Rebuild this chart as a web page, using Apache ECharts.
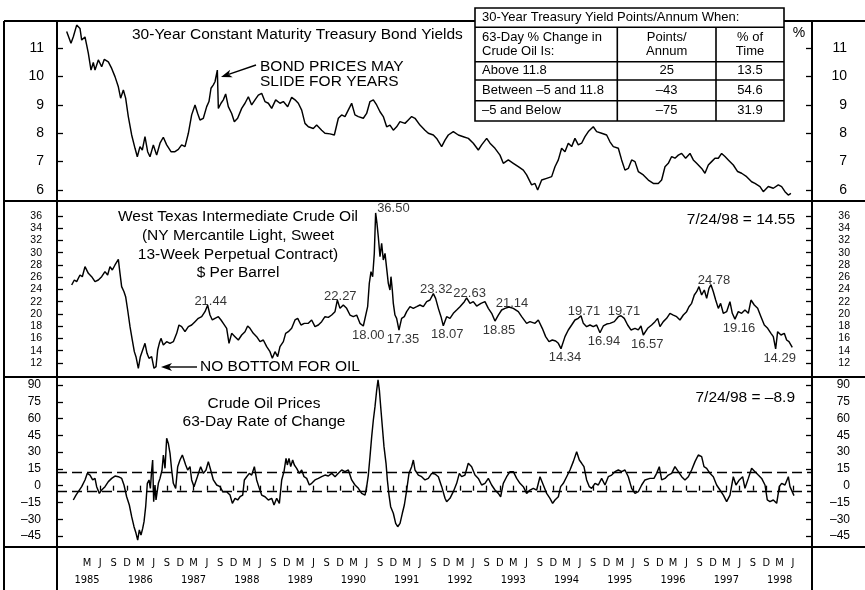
<!DOCTYPE html>
<html>
<head>
<meta charset="utf-8">
<title>Bond yields and crude oil</title>
<script src="https://cdn.jsdelivr.net/npm/echarts@6/dist/echarts.min.js"></script>
<style>
  html, body { margin: 0; padding: 0; background: #fff; }
  #main { width: 865px; height: 590px; }
</style>
</head>
<body>
<div id="main"></div>
<script>
// ---- data (x = decimal year) ----
var yieldDates = [1984.785,1984.866,1984.910,1984.973,1985.035,1985.067,1985.129,1985.160,1985.192,1985.242,1985.285,1985.317,1985.379,1985.442,1985.492,1985.567,1985.630,1985.692,1985.755,1985.798,1985.849,1985.892,1985.942,1986.005,1986.068,1986.111,1986.161,1986.205,1986.255,1986.305,1986.349,1986.412,1986.474,1986.537,1986.599,1986.662,1986.743,1986.818,1986.881,1986.943,1987.006,1987.069,1987.131,1987.194,1987.244,1987.287,1987.350,1987.413,1987.456,1987.494,1987.538,1987.569,1987.613,1987.632,1987.682,1987.725,1987.769,1987.819,1987.882,1987.932,1987.994,1988.070,1988.132,1988.195,1988.257,1988.320,1988.382,1988.445,1988.507,1988.570,1988.633,1988.708,1988.789,1988.852,1988.933,1989.008,1989.071,1989.133,1989.196,1989.258,1989.321,1989.414,1989.477,1989.571,1989.633,1989.727,1989.809,1989.884,1989.946,1990.009,1990.103,1990.134,1990.196,1990.259,1990.353,1990.415,1990.478,1990.541,1990.603,1990.666,1990.728,1990.791,1990.853,1990.916,1990.978,1991.041,1991.135,1991.197,1991.260,1991.323,1991.416,1991.510,1991.573,1991.667,1991.729,1991.823,1991.886,1991.948,1992.042,1992.136,1992.230,1992.324,1992.417,1992.511,1992.574,1992.668,1992.730,1992.824,1992.918,1992.980,1993.074,1993.168,1993.262,1993.356,1993.418,1993.512,1993.575,1993.625,1993.700,1993.794,1993.888,1993.950,1994.013,1994.075,1994.138,1994.200,1994.263,1994.325,1994.388,1994.450,1994.513,1994.576,1994.669,1994.732,1994.826,1994.920,1994.982,1995.045,1995.139,1995.201,1995.264,1995.326,1995.389,1995.452,1995.514,1995.608,1995.702,1995.796,1995.889,1995.952,1996.015,1996.077,1996.140,1996.202,1996.265,1996.327,1996.402,1996.484,1996.546,1996.609,1996.703,1996.765,1996.828,1996.890,1996.953,1997.016,1997.078,1997.141,1997.203,1997.297,1997.378,1997.453,1997.547,1997.641,1997.704,1997.798,1997.860,1997.954,1998.048,1998.142,1998.204,1998.267,1998.329,1998.379];
var yieldValues = [11.59,11.18,11.41,11.82,11.70,11.29,11.40,11.12,10.82,10.23,10.50,10.23,10.59,10.35,10.61,10.52,10.29,10.00,9.64,9.24,9.53,9.24,8.59,7.94,7.47,7.17,7.53,7.41,7.88,7.35,7.17,7.59,7.23,7.65,7.86,7.59,7.35,7.35,7.43,7.59,7.53,8.00,8.65,9.00,8.70,8.47,8.53,8.94,9.12,9.59,9.71,9.82,10.23,8.88,9.06,9.18,9.39,8.94,8.70,8.41,8.53,8.88,9.06,9.29,9.00,9.18,9.35,9.41,9.12,9.06,8.88,9.18,9.06,9.12,8.94,9.27,9.18,9.06,8.82,8.35,8.23,8.17,8.29,8.11,8.00,7.98,7.94,8.53,8.65,8.59,8.94,9.06,8.65,8.59,8.53,8.70,9.12,9.18,9.00,8.76,8.59,8.23,8.29,8.11,8.23,8.41,8.35,8.47,8.59,8.53,8.29,8.11,8.00,7.94,7.82,7.53,7.76,7.94,8.06,7.94,7.88,7.82,7.65,7.41,7.59,7.82,7.65,7.47,7.23,6.94,7.06,6.94,6.82,6.70,6.53,6.18,6.23,6.00,6.35,6.41,6.47,6.82,7.06,7.47,7.35,7.65,7.53,7.82,7.59,7.65,7.88,8.06,8.23,8.06,8.00,7.94,7.70,7.53,7.47,7.06,6.70,6.76,7.06,7.00,6.65,6.53,6.35,6.23,6.23,6.35,6.82,6.94,7.18,7.12,7.23,7.29,7.12,7.29,7.06,6.94,6.76,6.59,6.88,7.00,7.12,7.12,7.29,7.18,7.06,6.88,6.65,6.59,6.47,6.29,6.23,6.12,5.94,6.12,6.06,6.18,6.12,5.94,5.82,5.88];

var oilDates = [1984.879,1984.929,1984.973,1985.035,1985.079,1985.129,1985.192,1985.254,1985.317,1985.379,1985.442,1985.504,1985.554,1985.598,1985.642,1985.692,1985.755,1985.786,1985.817,1985.861,1985.892,1985.930,1985.974,1986.017,1986.055,1986.086,1986.130,1986.168,1986.205,1986.255,1986.293,1986.330,1986.380,1986.424,1986.462,1986.493,1986.524,1986.555,1986.599,1986.662,1986.724,1986.787,1986.850,1986.893,1986.943,1987.006,1987.069,1987.131,1987.194,1987.256,1987.319,1987.381,1987.431,1987.475,1987.519,1987.569,1987.632,1987.682,1987.725,1987.788,1987.832,1987.882,1987.944,1988.007,1988.070,1988.132,1988.182,1988.226,1988.288,1988.351,1988.414,1988.476,1988.539,1988.601,1988.645,1988.695,1988.745,1988.789,1988.852,1988.895,1988.945,1989.008,1989.071,1989.121,1989.183,1989.246,1989.321,1989.383,1989.446,1989.508,1989.571,1989.633,1989.696,1989.759,1989.821,1989.865,1989.915,1989.977,1990.040,1990.103,1990.165,1990.228,1990.290,1990.353,1990.372,1990.434,1990.465,1990.497,1990.528,1990.559,1990.584,1990.609,1990.634,1990.666,1990.697,1990.728,1990.760,1990.791,1990.822,1990.853,1990.872,1990.897,1990.916,1990.947,1990.978,1991.022,1991.072,1991.122,1991.166,1991.229,1991.291,1991.354,1991.416,1991.479,1991.542,1991.604,1991.667,1991.710,1991.761,1991.811,1991.854,1991.917,1991.979,1992.042,1992.105,1992.167,1992.249,1992.292,1992.355,1992.417,1992.480,1992.561,1992.636,1992.699,1992.762,1992.824,1992.887,1992.949,1993.012,1993.087,1993.168,1993.262,1993.325,1993.418,1993.481,1993.575,1993.637,1993.712,1993.775,1993.838,1993.900,1993.963,1994.013,1994.063,1994.138,1994.200,1994.263,1994.325,1994.388,1994.438,1994.482,1994.544,1994.607,1994.669,1994.732,1994.795,1994.857,1994.920,1994.982,1995.064,1995.139,1995.189,1995.251,1995.314,1995.376,1995.452,1995.514,1995.564,1995.608,1995.689,1995.764,1995.827,1995.877,1995.921,1995.983,1996.046,1996.108,1996.171,1996.234,1996.296,1996.359,1996.421,1996.465,1996.515,1996.565,1996.609,1996.653,1996.703,1996.753,1996.797,1996.840,1996.878,1996.922,1996.966,1997.016,1997.059,1997.109,1997.172,1997.234,1997.278,1997.328,1997.391,1997.453,1997.516,1997.579,1997.629,1997.691,1997.754,1997.816,1997.879,1997.942,1998.004,1998.048,1998.092,1998.129,1998.192,1998.254,1998.298,1998.342,1998.404];
var oilValues = [24.73,25.55,25.28,26.37,26.09,27.73,26.64,26.09,25.28,25.55,26.09,26.91,26.37,27.73,27.18,28.00,28.92,26.64,24.46,23.64,22.83,20.65,17.93,15.75,13.85,13.03,11.13,13.03,12.76,15.21,13.58,12.76,13.03,11.13,11.40,14.12,15.21,16.02,14.94,15.48,15.21,15.48,16.84,18.20,17.93,17.11,17.93,18.20,18.75,19.29,19.56,20.38,21.44,19.83,19.02,19.29,19.56,19.02,18.47,17.66,15.21,16.84,16.30,15.75,16.57,17.11,18.04,17.66,16.84,16.30,15.48,15.75,14.66,13.85,12.76,13.85,13.03,14.66,15.48,16.84,17.11,17.66,19.02,19.29,18.20,18.47,18.47,19.02,17.93,18.20,18.75,19.56,19.45,19.83,20.38,22.27,20.92,21.47,20.92,19.83,19.56,19.83,18.47,18.04,18.00,21.19,25.00,26.91,26.09,29.90,36.50,34.80,32.62,29.36,31.54,28.81,29.90,27.45,25.00,23.92,26.09,23.92,21.74,19.83,19.29,17.35,19.29,19.56,20.38,21.19,20.92,21.19,21.47,21.19,22.01,22.28,23.32,22.55,20.92,19.56,18.07,19.56,19.29,20.11,20.65,21.19,22.01,22.63,21.74,22.01,21.30,21.74,22.01,20.92,20.11,18.85,19.83,20.65,20.92,21.14,20.92,20.38,19.56,18.47,18.75,18.47,19.02,17.66,16.30,15.48,15.75,15.60,15.21,14.34,16.30,17.39,18.20,19.02,19.29,19.71,18.47,17.93,18.20,17.93,18.20,16.94,18.04,18.36,18.47,18.75,19.56,19.71,19.29,18.20,17.39,17.66,17.39,18.04,16.57,17.66,18.20,18.75,19.29,17.93,18.75,19.29,20.11,19.83,19.56,19.02,19.83,20.38,21.19,21.74,23.10,23.64,24.46,23.10,23.92,22.55,24.19,24.78,23.64,22.28,20.92,21.74,20.11,20.38,22.01,20.11,19.16,20.38,20.11,20.65,20.11,22.28,21.47,20.92,19.56,18.20,17.66,16.84,16.30,14.29,17.11,16.57,16.84,15.75,15.48,14.55];

// labelled highs and lows on the oil line
var oilPeakDates = [1987.431,1989.865,1990.584,1991.667,1992.292,1993.087,1994.438,1995.189,1996.878];
var oilPeakValues = [21.44,22.27,36.50,23.32,22.63,21.14,19.71,19.71,24.78];
var oilLowDates = [1990.372,1991.022,1991.854,1992.824,1994.063,1994.795,1995.608,1997.328,1998.092];
var oilLowValues = [18.00,17.35,18.07,18.85,14.34,16.94,16.57,19.16,14.29];

var rocDates = [1984.910,1984.960,1985.004,1985.067,1985.129,1985.173,1985.223,1985.273,1985.317,1985.348,1985.398,1985.442,1985.505,1985.567,1985.630,1985.692,1985.755,1985.818,1985.861,1985.911,1985.961,1986.005,1986.049,1986.087,1986.118,1986.149,1986.180,1986.212,1986.237,1986.268,1986.299,1986.331,1986.356,1986.381,1986.399,1986.418,1986.443,1986.462,1986.506,1986.537,1986.575,1986.600,1986.631,1986.662,1986.693,1986.725,1986.756,1986.787,1986.831,1986.869,1986.912,1986.956,1986.988,1987.019,1987.056,1987.100,1987.131,1987.175,1987.238,1987.300,1987.350,1987.400,1987.444,1987.488,1987.538,1987.601,1987.663,1987.713,1987.788,1987.851,1987.895,1987.945,1987.995,1988.039,1988.089,1988.120,1988.164,1988.214,1988.258,1988.308,1988.351,1988.401,1988.445,1988.508,1988.570,1988.633,1988.677,1988.727,1988.777,1988.821,1988.864,1988.902,1988.927,1988.958,1988.990,1989.027,1989.058,1989.102,1989.152,1989.196,1989.240,1989.290,1989.340,1989.384,1989.446,1989.509,1989.571,1989.634,1989.696,1989.759,1989.822,1989.884,1989.947,1990.009,1990.072,1990.134,1990.197,1990.260,1990.322,1990.385,1990.416,1990.447,1990.478,1990.510,1990.541,1990.572,1990.604,1990.629,1990.654,1990.679,1990.710,1990.741,1990.779,1990.804,1990.835,1990.866,1990.916,1990.960,1990.998,1991.042,1991.085,1991.123,1991.167,1991.210,1991.260,1991.292,1991.323,1991.386,1991.448,1991.511,1991.573,1991.636,1991.698,1991.761,1991.824,1991.886,1991.917,1991.979,1992.042,1992.105,1992.155,1992.198,1992.261,1992.323,1992.386,1992.449,1992.511,1992.574,1992.636,1992.699,1992.761,1992.824,1992.887,1992.930,1992.980,1993.043,1993.106,1993.168,1993.231,1993.293,1993.356,1993.418,1993.481,1993.543,1993.606,1993.669,1993.731,1993.794,1993.856,1993.906,1993.950,1994.013,1994.056,1994.107,1994.169,1994.232,1994.294,1994.357,1994.407,1994.451,1994.494,1994.544,1994.595,1994.638,1994.701,1994.763,1994.826,1994.889,1994.951,1995.014,1995.076,1995.139,1995.201,1995.264,1995.326,1995.389,1995.452,1995.514,1995.577,1995.639,1995.733,1995.808,1995.858,1995.908,1995.952,1996.015,1996.077,1996.140,1996.202,1996.265,1996.328,1996.390,1996.453,1996.515,1996.578,1996.640,1996.703,1996.747,1996.797,1996.859,1996.922,1996.984,1997.047,1997.110,1997.172,1997.235,1997.297,1997.347,1997.410,1997.472,1997.516,1997.579,1997.641,1997.704,1997.766,1997.829,1997.892,1997.935,1997.985,1998.048,1998.111,1998.161,1998.204,1998.267,1998.330,1998.361,1998.392,1998.436];
var rocValues = [-12.8,-8.4,-5.4,-0.9,5.1,11.0,9.5,5.1,6.5,-0.9,-6.9,-3.9,-0.9,3.6,6.5,8.6,8.0,6.5,0.6,-9.9,-17.3,-27.7,-36.7,-42.6,-48.6,-39.6,-44.1,-38.2,-32.2,-18.8,2.1,5.1,-2.4,14.0,22.9,-14.3,0.6,-12.8,2.1,6.5,14.0,27.4,15.5,42.3,37.8,28.9,14.0,2.1,-2.4,17.0,22.9,27.4,22.9,18.5,14.0,17.0,5.1,-0.9,8.0,17.0,11.0,14.0,21.5,14.0,5.1,0.6,-0.9,-5.4,-5.4,-8.4,-15.8,-11.3,-12.8,-9.9,-8.4,5.1,8.0,11.0,9.5,17.0,5.1,-2.4,-8.4,-9.9,-12.8,-11.3,-17.3,-11.3,-15.8,5.1,12.5,24.4,18.5,24.4,17.0,22.9,18.5,15.5,11.0,14.0,8.0,6.5,0.6,2.1,5.1,6.5,8.0,9.5,8.6,11.0,8.0,11.0,14.0,12.5,14.0,5.1,0.6,-2.4,-6.9,-8.4,-0.9,9.5,25.9,43.8,58.7,70.6,85.5,94.5,85.5,70.6,52.7,34.9,20.0,5.1,-8.4,-18.8,-24.7,-33.7,-36.7,-33.7,-24.7,-17.3,-3.9,11.0,17.0,22.9,14.0,9.5,8.0,5.1,6.5,11.0,10.4,8.0,-0.9,-11.3,-14.3,-11.3,-5.4,2.1,11.0,8.0,9.5,20.0,17.0,9.5,6.5,0.6,2.1,6.5,0.6,-3.9,-6.9,-9.9,2.1,8.0,12.5,12.5,6.5,2.1,-0.9,-6.9,-3.9,-2.4,-3.9,8.0,0.6,-6.9,-11.3,-15.8,-12.8,-9.9,-0.9,2.1,8.0,14.0,21.5,30.4,22.9,20.0,17.0,5.1,-0.9,-2.4,2.1,0.6,6.5,0.6,8.0,9.5,12.5,14.0,12.5,14.0,8.0,-2.4,-6.9,-5.4,0.6,5.1,6.5,6.5,11.0,17.0,5.1,6.5,9.5,11.0,17.0,12.5,8.0,5.1,8.0,14.0,21.5,27.4,25.9,17.0,15.5,11.0,8.0,0.6,-3.9,-8.4,-14.3,-8.4,8.0,0.6,5.1,8.0,-2.4,6.5,15.5,12.5,9.5,6.5,0.6,-12.8,-14.3,-12.8,-15.8,-0.9,2.1,0.6,8.0,-0.9,-2.4,-8.9];
var rocBands = [11.8, -5];

var lastDate = '7/24/98';
var oilLast = 14.55;
var rocLast = -8.9;

var yieldTicks = [6, 7, 8, 9, 10, 11];
var oilTicks = [12, 14, 16, 18, 20, 22, 24, 26, 28, 30, 32, 34, 36];
var rocTicks = [-45, -30, -15, 0, 15, 30, 45, 60, 75, 90];
var monthLetters = ['M', 'J', 'S', 'D'];   // Mar, Jun, Sep, Dec
var firstYear = 1985, lastYear = 1998;

var tableTitle = '30-Year Treasury Yield Points/Annum When:';
var tableHead = [['63-Day % Change in', 'Crude Oil Is:'], ['Points/', 'Annum'], ['% of', 'Time']];
var tableRows = [
  ['Above 11.8', '25', '13.5'],
  ['Between \u20135 and 11.8', '\u201343', '54.6'],
  ['\u20135 and Below', '\u201375', '31.9']
];

// ---- layout ----
var FONT = '"Liberation Sans", Arial, Helvetica, sans-serif';
var NARROW = '"Liberation Sans Narrow", "Arial Narrow", "DejaVu Sans Condensed", sans-serif';
var X_MIN = 1984.6036, X_MAX = 1998.7741;
var PLOT_L = 57, PLOT_R = 812;
var LINE_W = 1.45;

var quarterTicks = [];
var yearTicks = [];
for (var yr = firstYear; yr <= lastYear; yr++) {
  for (var q = 0; q < 4; q++) {
    if (yr === lastYear && q > 1) break;
    quarterTicks.push(yr + (2 + q * 3) / 12);
  }
  yearTicks.push(yr + 2 / 12);
}

function monthLabel(v) {
  var y = Math.floor(v + 1e-6);
  return monthLetters[Math.round(((v - y) * 12 - 2) / 3)];
}

function yearLabel(v) {
  return String(Math.floor(v + 1e-6));
}

function dash(v) {
  return v < 0 ? '\u2013' + (-v) : String(v);
}

function hiddenX(gi) {
  return { type: 'value', gridIndex: gi, min: X_MIN, max: X_MAX, show: false,
    axisLine: { show: false }, splitLine: { show: false }, axisTick: { show: false }, axisLabel: { show: false } };
}

function labelX(ticks, fmt, margin, withTicks) {
  return {
    type: 'value', gridIndex: 2, position: 'bottom', offset: 0, min: X_MIN, max: X_MAX,
    axisLine: { show: false }, splitLine: { show: false },
    axisTick: withTicks ? { show: true, inside: false, length: 5, customValues: ticks,
      lineStyle: { color: '#000', width: 1.3 } } : { show: false },
    axisLabel: { show: true, customValues: ticks, formatter: fmt,
      showMinLabel: true, showMaxLabel: true, hideOverlap: false,
      color: '#000', fontFamily: NARROW, fontSize: 11, lineHeight: 11, margin: margin }
  };
}

function yAxisFor(gi, pos, min, max, ticks, size, margin) {
  return {
    type: 'value', gridIndex: gi, position: pos, min: min, max: max,
    axisLine: { show: false }, splitLine: { show: false },
    axisTick: { show: true, inside: true, length: 6, customValues: ticks,
      lineStyle: { color: '#000', width: 1.3 } },
    axisLabel: { customValues: ticks, formatter: dash, color: '#000', fontFamily: FONT,
      showMinLabel: true, showMaxLabel: true,
      fontSize: size, margin: margin, align: 'right' }
  };
}

function pairs(xs, ys) {
  return xs.map(function (x, i) { return [x, ys[i]]; });
}

function lineSeries(xi, yi, xs, ys) {
  return {
    type: 'line', xAxisIndex: xi, yAxisIndex: yi, data: pairs(xs, ys),
    showSymbol: false, symbol: 'none', smooth: false, silent: true,
    lineStyle: { color: '#000', width: LINE_W }
  };
}

function seg(x1, y1, x2, y2, w) {
  return { type: 'line', shape: { x1: x1, y1: y1, x2: x2, y2: y2 },
    style: { stroke: '#000', lineWidth: w || 2 } };
}

function txt(s, x, y, size, align, lh) {
  return { type: 'text', style: { text: s, x: x, y: y, fill: '#000',
    font: size + 'px ' + FONT, align: align || 'left', verticalAlign: 'middle', lineHeight: lh || size } };
}

function arrow(x1, y1, x2, y2) {
  var dx = x2 - x1, dy = y2 - y1, len = Math.sqrt(dx * dx + dy * dy);
  var ux = dx / len, uy = dy / len, hl = 11, hw = 4;
  var bx = x2 - ux * hl, by = y2 - uy * hl;
  return [
    seg(x1, y1, bx + ux * 3, by + uy * 3, 1.4),
    { type: 'polygon', shape: { points: [[x2, y2], [bx - uy * hw, by + ux * hw], [bx + ux * 3, by + uy * 3], [bx + uy * hw, by - ux * hw]] },
      style: { fill: '#000' } }
  ];
}

// frame
var graphics = [
  seg(4, 21, 865, 21), seg(4, 201, 865, 201), seg(4, 377, 865, 377), seg(4, 547, 865, 547),
  seg(4, 21, 4, 590), seg(PLOT_L, 21, PLOT_L, 590), seg(PLOT_R, 21, PLOT_R, 590)
];

// panel texts
graphics.push(txt('30-Year Constant Maturity Treasury Bond Yields', 132, 35, 15.5));
graphics.push(txt('BOND PRICES MAY\nSLIDE FOR YEARS', 260, 74, 15.5, 'left', 15.5));
graphics = graphics.concat(arrow(256, 65, 221, 77));
graphics.push(txt('%', 799, 33, 14, 'center'));
graphics.push(txt('West Texas Intermediate Crude Oil\n(NY Mercantile Light, Sweet\n13-Week Perpetual Contract)\n$ Per Barrel',
  238, 245, 15.5, 'center', 18.7));
graphics.push(txt(lastDate + ' = ' + oilLast.toFixed(2), 795, 220, 15.5, 'right'));
graphics.push(txt('NO BOTTOM FOR OIL', 200, 367, 15.5));
graphics = graphics.concat(arrow(197, 367, 161, 367));
graphics.push(txt('Crude Oil Prices\n63-Day Rate of Change', 264, 413, 15.5, 'center', 18));
graphics.push(txt(lastDate + ' = ' + dash(rocLast), 795, 398, 15.5, 'right'));

// table
var TX = 475, TR = 784, TY = 8, TB = 121;
var rowLines = [27.3, 61.7, 80, 100.7];
var colLines = [617.3, 716];
var table = [{ type: 'rect', shape: { x: TX, y: TY, width: TR - TX, height: TB - TY },
  style: { fill: '#fff', stroke: '#000', lineWidth: 1.6 } }];
rowLines.forEach(function (y) { table.push(seg(TX, y, TR, y, 1.6)); });
colLines.forEach(function (x) { table.push(seg(x, rowLines[0], x, TB, 1.6)); });
table.push(txt(tableTitle, 482, 17.6, 13));
var colCenters = [482, (colLines[0] + colLines[1]) / 2, (colLines[1] + TR) / 2];
tableHead.forEach(function (h, i) {
  table.push(txt(h.join('\n'), colCenters[i], 44.6, 13, i === 0 ? 'left' : 'center', 13.4));
});
var rowCenters = [70.9, 90.4, 110.9];
tableRows.forEach(function (r, j) {
  r.forEach(function (c, i) {
    table.push(txt(c, colCenters[i], rowCenters[j], 13, i === 0 ? 'left' : 'center'));
  });
});
graphics.push({ type: 'group', z: 100, children: table });

// oil high/low labels
var oilMarks = [];
oilPeakDates.forEach(function (d, i) {
  var v = oilPeakValues[i];
  var isTop = v === Math.max.apply(null, oilPeakValues);
  oilMarks.push({ value: [d, v], label: isTop
    ? { position: 'right', distance: 1, offset: [0, -5] }
    : { position: 'top', distance: 0, offset: [3, 3] } });
});
oilLowDates.forEach(function (d, i) {
  oilMarks.push({ value: [d, oilLowValues[i]], label: { position: 'bottom', distance: 2, offset: [4, 0] } });
});

var chart = echarts.init(document.getElementById('main'), null, { renderer: 'canvas' });
chart.setOption({
  animation: false,
  backgroundColor: '#fff',
  textStyle: { fontFamily: FONT },
  grid: [
    { left: PLOT_L, right: 865 - PLOT_R, top: 21, height: 180, outerBoundsMode: 'none' },
    { left: PLOT_L, right: 865 - PLOT_R, top: 201, height: 176, outerBoundsMode: 'none' },
    { left: PLOT_L, right: 865 - PLOT_R, top: 377, height: 170, outerBoundsMode: 'none' }
  ],
  xAxis: [
    hiddenX(0), hiddenX(1),
    labelX(quarterTicks, monthLabel, 11, true),
    labelX(yearTicks, yearLabel, 28, false)
  ],
  yAxis: [
    yAxisFor(0, 'left', 5.61, 11.964, yieldTicks, 14, 13),
    yAxisFor(0, 'right', 5.61, 11.964, yieldTicks, 14, 35),
    yAxisFor(1, 'left', 9.71, 38.45, oilTicks, 10.5, 15),
    yAxisFor(1, 'right', 9.71, 38.45, oilTicks, 10.5, 38),
    yAxisFor(2, 'left', -54.84, 97.15, rocTicks, 12, 16),
    yAxisFor(2, 'right', -54.84, 97.15, rocTicks, 12, 38)
  ],
  series: [
    lineSeries(0, 0, yieldDates, yieldValues),
    lineSeries(1, 2, oilDates, oilValues),
    {
      type: 'scatter', xAxisIndex: 1, yAxisIndex: 2, data: oilMarks, silent: true,
      symbolSize: 1, itemStyle: { color: 'rgba(0,0,0,0)' },
      label: { show: true, color: '#000', fontFamily: FONT, fontSize: 13,
        formatter: function (p) { return p.value[1].toFixed(2); } }
    },
    Object.assign(lineSeries(2, 4, rocDates, rocValues), {
      markLine: {
        silent: true, symbol: 'none', animation: false,
        label: { show: false },
        lineStyle: { color: '#000', type: [10, 5], width: 1.3 },
        data: rocBands.map(function (b) { return { yAxis: b }; })
      }
    })
  ],
  graphic: graphics
});
</script>
</body>
</html>
